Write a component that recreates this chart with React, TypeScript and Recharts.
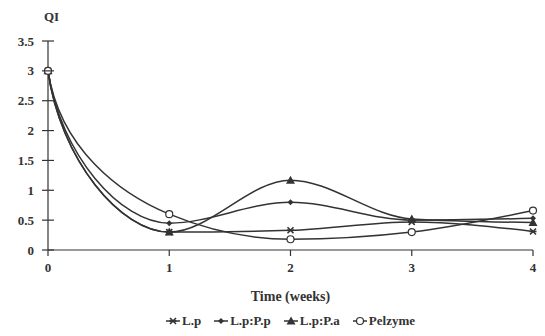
import { LineChart, Line, XAxis, YAxis } from 'recharts'

const weeks = [0, 1, 2, 3, 4]
const lp = [3, 0.3, 0.33, 0.47, 0.31]
const lpPp = [3, 0.45, 0.8, 0.5, 0.53]
const lpPa = [3, 0.3, 1.17, 0.52, 0.46]
const pelzyme = [3, 0.6, 0.18, 0.3, 0.66]
const yTicks = [0, 0.5, 1, 1.5, 2, 2.5, 3, 3.5]
const seriesNames = ['L.p', 'L.p:P.p', 'L.p:P.a', 'Pelzyme']

const INK = '#333'
const FONT = '"Liberation Serif", "Times New Roman", serif'

const data = weeks.map((w, i) => ({
    week: w,
    lp: lp[i],
    lpPp: lpPp[i],
    lpPa: lpPa[i],
    pelzyme: pelzyme[i],
}))

// monotone-ish cubic curve, but with a fast decay on the first segment like the original plot
const decayCurve = (context: any) => {
    let xs: number[] = []
    let ys: number[] = []
    return {
        areaStart() {},
        areaEnd() {},
        lineStart() {
            xs = []
            ys = []
        },
        point(x: number, y: number) {
            xs.push(+x)
            ys.push(+y)
        },
        lineEnd() {
            const n = xs.length
            if (!n) return
            context.moveTo(xs[0], ys[0])
            if (n === 1) return
            const s: number[] = []
            for (let i = 0; i < n - 1; i++) s[i] = (ys[i + 1] - ys[i]) / (xs[i + 1] - xs[i])
            const m: number[] = []
            for (let i = 1; i < n - 1; i++) {
                if (s[i - 1] * s[i] <= 0) m[i] = 0
                else {
                    const p = (s[i - 1] + s[i]) / 2
                    m[i] = (Math.sign(s[i - 1]) + Math.sign(s[i])) * Math.min(Math.abs(s[i - 1]), Math.abs(s[i]), 0.5 * Math.abs(p))
                }
            }
            m[0] = n > 2 ? (3 * s[0] - m[1]) / 2 : s[0]
            m[n - 1] = n > 2 ? (3 * s[n - 2] - m[n - 2]) / 2 : s[0]
            for (let i = 0; i < n - 1; i++) {
                const dx = xs[i + 1] - xs[i]
                if (i === 0 && n > 2) {
                    context.bezierCurveTo(
                        xs[0] + 0.1 * dx, ys[0] + 0.55 * (ys[1] - ys[0]),
                        xs[1] - 0.4 * dx, ys[1] - 0.4 * dx * m[1],
                        xs[1], ys[1]
                    )
                } else {
                    context.bezierCurveTo(
                        xs[i] + dx / 3, ys[i] + (m[i] * dx) / 3,
                        xs[i + 1] - dx / 3, ys[i + 1] - (m[i + 1] * dx) / 3,
                        xs[i + 1], ys[i + 1]
                    )
                }
            }
        },
    }
}

// marker shapes, drawn around (cx, cy)
const marker = (kind: number, cx: number, cy: number) => {
    if (kind === 0) {
        return (
            <g stroke={INK} strokeWidth={1.6}>
                <line x1={cx - 3} y1={cy - 3} x2={cx + 3} y2={cy + 3} />
                <line x1={cx - 3} y1={cy + 3} x2={cx + 3} y2={cy - 3} />
                <line x1={cx - 3.5} y1={cy} x2={cx + 3.5} y2={cy} />
            </g>
        )
    }
    if (kind === 1) {
        return <path d={`M${cx},${cy - 3}L${cx + 3},${cy}L${cx},${cy + 3}L${cx - 3},${cy}Z`} fill={INK} />
    }
    if (kind === 2) {
        return <path d={`M${cx},${cy - 4.5}L${cx + 4.5},${cy + 3.5}L${cx - 4.5},${cy + 3.5}Z`} fill={INK} />
    }
    return <circle cx={cx} cy={cy} r={3.5} fill="#fff" stroke={INK} strokeWidth={1.2} />
}

const makeDot = (kind: number) => (props: any) => (
    <g key={props.key ?? `${kind}-${props.index}`}>{marker(kind, props.cx, props.cy)}</g>
)

const YTick = ({ x, y, payload }: any) => (
    <g>
        <line x1={x + 8} y1={y} x2={x + 20} y2={y} stroke={INK} strokeWidth={1.2} />
        <text x={x} y={y} dy="0.35em" textAnchor="end" fill={INK} fontSize={13} fontWeight="bold" fontFamily={FONT}>
            {payload.value}
        </text>
    </g>
)

export default function App() {
    const keys = ['lp', 'lpPp', 'lpPa', 'pelzyme']
    return (
        <div style={{ position: 'absolute', left: 0, top: 0, width: 545, height: 336, background: '#fff', fontFamily: FONT }}>
            <div style={{ position: 'absolute', left: 44, top: 9, fontSize: 13, fontWeight: 'bold', color: INK }}>QI</div>
            <LineChart width={545} height={336} data={data} margin={{ top: 41, right: 12, left: 0, bottom: 0 }}>
                <XAxis
                    dataKey="week"
                    type="number"
                    domain={[0, 4]}
                    ticks={weeks}
                    height={86}
                    stroke={INK}
                    strokeWidth={1.2}
                    tickSize={6}
                    tickMargin={7}
                    tick={{ fill: INK, fontSize: 13, fontWeight: 'bold', fontFamily: FONT }}
                    label={{ value: 'Time (weeks)', position: 'insideTop', offset: 41, fill: INK, fontSize: 14, fontWeight: 'bold', fontFamily: FONT }}
                />
                <YAxis
                    type="number"
                    domain={[0, 3.5]}
                    ticks={yTicks}
                    width={48}
                    stroke={INK}
                    strokeWidth={1.2}
                    tickLine={false}
                    tickSize={6}
                    tickMargin={8}
                    tick={<YTick />}
                />
                {keys.map((k, i) => (
                    <Line
                        key={k}
                        dataKey={k}
                        name={seriesNames[i]}
                        type={decayCurve as any}
                        stroke={INK}
                        strokeWidth={1.5}
                        dot={makeDot(i)}
                        isAnimationActive={false}
                    />
                ))}
            </LineChart>
            <div style={{ position: 'absolute', left: 0, width: 580, top: 313, display: 'flex', justifyContent: 'center', gap: 12, fontSize: 13, fontWeight: 'bold', color: INK }}>
                {seriesNames.map((n, i) => (
                    <span key={n} style={{ display: 'flex', alignItems: 'center' }}>
                        <svg width={16} height={12} style={{ marginRight: 1 }}>
                            <line x1={1} y1={6} x2={15} y2={6} stroke={INK} strokeWidth={1.5} />
                            {marker(i, 8, 6)}
                        </svg>
                        {n}
                    </span>
                ))}
            </div>
        </div>
    )
}
